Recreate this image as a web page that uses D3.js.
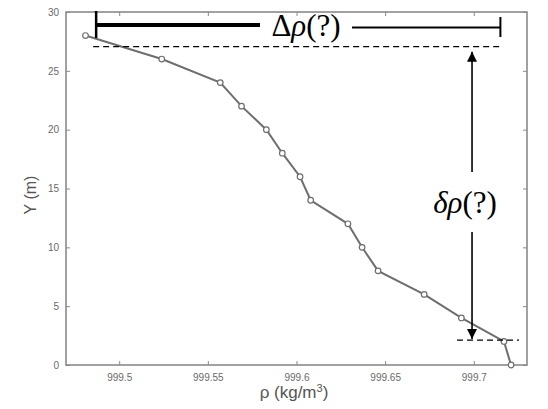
<!DOCTYPE html>
<html>
<head>
<meta charset="utf-8">
<script src="https://d3js.org/d3.v7.min.js"></script>
<style>
  body { margin: 0; background: #fff; }
  svg { display: block; }
  .tick text { font-family: "Liberation Sans", Arial, sans-serif; font-size: 10px; fill: #6a6a6a; }
  .label { font-family: "Liberation Sans", Arial, sans-serif; fill: #555; }
  .anno { font-family: "Liberation Serif", "Times New Roman", "DejaVu Serif", serif; font-size: 31px; fill: #000; }
</style>
</head>
<body>
<svg width="548" height="409"></svg>
<script>
// **** data ****
var depth = [28, 26, 24, 22, 20, 18, 16, 14, 12, 10, 8, 6, 4, 2, 0];
var rho = [999.481, 999.524, 999.557, 999.569, 999.583, 999.592, 999.602, 999.608,
           999.629, 999.637, 999.646, 999.672, 999.693, 999.717, 999.721];
var xTicks = [999.5, 999.55, 999.6, 999.65, 999.7];
var yTicks = [0, 5, 10, 15, 20, 25, 30];

// annotation positions (data units)
var deltaLeft = 999.487, deltaRight = 999.715;
var topLevel = 27.05, bottomLevel = 2.12;
var arrowRho = 999.699;

var svg = d3.select('svg');

var xScale = d3.scaleLinear().domain([999.47, 999.73]).range([66, 527]);
var yScale = d3.scaleLinear().domain([0, 30]).range([365, 12]);

var axisColor = '#8a8a8a';

// **** axes (box style) ****
svg.append('rect')
    .attr('x', 66).attr('y', 12)
    .attr('width', 461).attr('height', 353)
    .attr('fill', 'none').attr('stroke', axisColor).attr('stroke-width', 1.6);

var xAxis = svg.append('g').attr('transform', 'translate(0,365)')
    .call(d3.axisBottom(xScale).tickValues(xTicks).tickSizeInner(-4).tickSizeOuter(0).tickPadding(9)
        .tickFormat(function(d) { return d3.format('.2~f')(d); }));
var xAxisTop = svg.append('g').attr('transform', 'translate(0,12)')
    .call(d3.axisTop(xScale).tickValues(xTicks).tickSizeInner(-4).tickSizeOuter(0).tickFormat(''));
var yAxis = svg.append('g').attr('transform', 'translate(66,0)')
    .call(d3.axisLeft(yScale).tickValues(yTicks).tickSizeInner(-4).tickSizeOuter(0).tickPadding(7));
var yAxisRight = svg.append('g').attr('transform', 'translate(527,0)')
    .call(d3.axisRight(yScale).tickValues(yTicks).tickSizeInner(-4).tickSizeOuter(0).tickFormat(''));

[xAxis, xAxisTop, yAxis, yAxisRight].forEach(function(g) {
    g.select('.domain').remove();
    g.selectAll('.tick line').attr('stroke', axisColor);
});

svg.append('text').attr('class', 'label')
    .attr('x', 294).attr('y', 398)
    .attr('text-anchor', 'middle').attr('font-size', 17)
    .html('ρ (kg/m<tspan baseline-shift="super" font-size="11">3</tspan>)');

svg.append('text').attr('class', 'label')
    .attr('transform', 'translate(36,195) rotate(-90)')
    .attr('text-anchor', 'middle').attr('font-size', 16)
    .text('Y (m)');

// **** data line ****
var pts = depth.map(function(d, i) { return { y: d, x: rho[i] }; });

svg.append('path').datum(pts)
    .attr('fill', 'none').attr('stroke', '#6e6e6e').attr('stroke-width', 2)
    .attr('d', d3.line().x(function(d) { return xScale(d.x); }).y(function(d) { return yScale(d.y); }));

svg.selectAll('circle.pt').data(pts).enter().append('circle')
    .attr('class', 'pt')
    .attr('cx', function(d) { return xScale(d.x); })
    .attr('cy', function(d) { return yScale(d.y); })
    .attr('r', 2.8)
    .attr('fill', '#fff').attr('stroke', '#6e6e6e').attr('stroke-width', 1.2);

// **** annotations ****
var defs = svg.append('defs');
defs.append('marker').attr('id', 'head')
    .attr('viewBox', '0 0 10 10').attr('refX', 10).attr('refY', 5)
    .attr('markerWidth', 10).attr('markerHeight', 10).attr('markerUnits', 'userSpaceOnUse')
    .attr('orient', 'auto')
    .append('path').attr('d', 'M0,0 L10,5 L0,10 Z').attr('fill', '#000');

var xl = xScale(deltaLeft), xr = xScale(deltaRight), xa = xScale(arrowRho);
var yTop = yScale(topLevel), yBot = yScale(bottomLevel);

// dashed levels
svg.append('line').attr('x1', xl - 3).attr('x2', xr + 1).attr('y1', yTop).attr('y2', yTop)
    .attr('stroke', '#000').attr('stroke-width', 1.2).attr('stroke-dasharray', '6,4');
svg.append('line').attr('x1', xa - 15).attr('x2', xa + 47).attr('y1', yBot).attr('y2', yBot)
    .attr('stroke', '#000').attr('stroke-width', 1.2).attr('stroke-dasharray', '6,4');

// Δρ bracket
svg.append('line').attr('x1', xl).attr('x2', xl).attr('y1', 11).attr('y2', 38)
    .attr('stroke', '#000').attr('stroke-width', 2.5);
svg.append('line').attr('x1', xl).attr('x2', 260).attr('y1', 25).attr('y2', 25)
    .attr('stroke', '#000').attr('stroke-width', 4);
svg.append('line').attr('x1', 352).attr('x2', xr).attr('y1', 27.5).attr('y2', 27.5)
    .attr('stroke', '#000').attr('stroke-width', 2);
svg.append('line').attr('x1', xr).attr('x2', xr).attr('y1', 17).attr('y2', 37)
    .attr('stroke', '#000').attr('stroke-width', 2);
svg.append('text').attr('class', 'anno')
    .attr('x', 306).attr('y', 36).attr('text-anchor', 'middle')
    .html('Δ<tspan font-style="italic">ρ</tspan>(?)');

// δρ arrows
svg.append('line').attr('x1', xa).attr('x2', xa).attr('y1', 172).attr('y2', yTop + 5)
    .attr('stroke', '#000').attr('stroke-width', 1.6).attr('marker-end', 'url(#head)');
svg.append('line').attr('x1', xa).attr('x2', xa).attr('y1', 232).attr('y2', yBot - 1)
    .attr('stroke', '#000').attr('stroke-width', 1.6).attr('marker-end', 'url(#head)');
svg.append('text').attr('class', 'anno')
    .attr('x', 465).attr('y', 213).attr('text-anchor', 'middle')
    .html('<tspan font-style="italic">δρ</tspan>(?)');
</script>
</body>
</html>
